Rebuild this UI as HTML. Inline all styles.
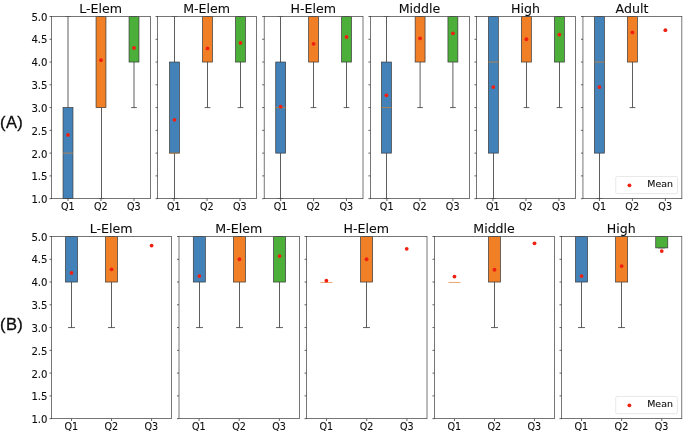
<!DOCTYPE html>
<html><head><meta charset="utf-8"><title>Boxplots</title>
<style>
html,body{margin:0;padding:0;background:#fff;}
body{width:685px;height:433px;overflow:hidden;}
svg{display:block;font-family:"DejaVu Sans","Liberation Sans",sans-serif;fill:#0c0c0c;}
svg text{stroke:#0c0c0c;stroke-width:0.1px;}
svg line,svg rect{shape-rendering:auto;}
</style></head><body>
<svg width="685" height="433" viewBox="0 0 685 433">
<rect x="0" y="0" width="685" height="433" fill="#ffffff" stroke="none"/>
<clipPath id="ca0"><rect x="51.5" y="16.5" width="99" height="182.15"/></clipPath>
<g clip-path="url(#ca0)">
<line x1="68" x2="68" y1="107.58" y2="16.5" stroke="#333333" stroke-width="0.8"/>
<line x1="65.13" x2="70.87" y1="198.65" y2="198.65" stroke="#383838" stroke-width="0.8"/>
<line x1="65.13" x2="70.87" y1="16.5" y2="16.5" stroke="#383838" stroke-width="0.8"/>
<rect x="63.05" y="107.58" width="9.9" height="91.08" fill="#4382b9" stroke="#383838" stroke-width="0.7"/>
<line x1="63.05" x2="72.95" y1="153.11" y2="153.11" stroke="#c8843a" stroke-width="0.8"/>
<line x1="101.5" x2="101.5" y1="107.58" y2="198.65" stroke="#333333" stroke-width="0.8"/>
<line x1="98.63" x2="104.37" y1="198.65" y2="198.65" stroke="#383838" stroke-width="0.8"/>
<line x1="98.63" x2="104.37" y1="16.5" y2="16.5" stroke="#383838" stroke-width="0.8"/>
<rect x="96.05" y="16.5" width="9.9" height="91.08" fill="#f07f26" stroke="#383838" stroke-width="0.7"/>
<line x1="134" x2="134" y1="62.04" y2="107.58" stroke="#333333" stroke-width="0.8"/>
<line x1="131.13" x2="136.87" y1="107.58" y2="107.58" stroke="#383838" stroke-width="0.8"/>
<line x1="131.13" x2="136.87" y1="16.5" y2="16.5" stroke="#383838" stroke-width="0.8"/>
<rect x="129.05" y="16.5" width="9.9" height="45.54" fill="#4baf3a" stroke="#383838" stroke-width="0.7"/>
</g>
<circle cx="68" cy="134.9" r="1.9" fill="#f01f10"/>
<circle cx="101" cy="60.22" r="1.9" fill="#f01f10"/>
<circle cx="134" cy="47.92" r="1.9" fill="#f01f10"/>
<rect x="51.5" y="16.5" width="99" height="182.15" fill="none" stroke="#3c3c3c" stroke-width="0.7"/>
<line x1="49.5" x2="51.5" y1="198.65" y2="198.65" stroke="#3c3c3c" stroke-width="0.8"/>
<text x="47.5" y="203.1" font-size="10.15" text-anchor="end">1.0</text>
<line x1="49.5" x2="51.5" y1="175.88" y2="175.88" stroke="#3c3c3c" stroke-width="0.8"/>
<text x="47.5" y="180.33" font-size="10.15" text-anchor="end">1.5</text>
<line x1="49.5" x2="51.5" y1="153.11" y2="153.11" stroke="#3c3c3c" stroke-width="0.8"/>
<text x="47.5" y="157.56" font-size="10.15" text-anchor="end">2.0</text>
<line x1="49.5" x2="51.5" y1="130.34" y2="130.34" stroke="#3c3c3c" stroke-width="0.8"/>
<text x="47.5" y="134.79" font-size="10.15" text-anchor="end">2.5</text>
<line x1="49.5" x2="51.5" y1="107.58" y2="107.58" stroke="#3c3c3c" stroke-width="0.8"/>
<text x="47.5" y="112.03" font-size="10.15" text-anchor="end">3.0</text>
<line x1="49.5" x2="51.5" y1="84.81" y2="84.81" stroke="#3c3c3c" stroke-width="0.8"/>
<text x="47.5" y="89.26" font-size="10.15" text-anchor="end">3.5</text>
<line x1="49.5" x2="51.5" y1="62.04" y2="62.04" stroke="#3c3c3c" stroke-width="0.8"/>
<text x="47.5" y="66.34" font-size="10.15" text-anchor="end">4.0</text>
<line x1="49.5" x2="51.5" y1="39.27" y2="39.27" stroke="#3c3c3c" stroke-width="0.8"/>
<text x="47.5" y="43.02" font-size="10.15" text-anchor="end">4.5</text>
<line x1="49.5" x2="51.5" y1="16.5" y2="16.5" stroke="#3c3c3c" stroke-width="0.8"/>
<text x="47.5" y="20.55" font-size="10.15" text-anchor="end">5.0</text>
<line x1="68" x2="68" y1="198.65" y2="201.05" stroke="#3c3c3c" stroke-width="0.8"/>
<text x="67.8" y="210.1" font-size="9.6" text-anchor="middle">Q1</text>
<line x1="101" x2="101" y1="198.65" y2="201.05" stroke="#3c3c3c" stroke-width="0.8"/>
<text x="100.8" y="210.1" font-size="9.6" text-anchor="middle">Q2</text>
<line x1="134" x2="134" y1="198.65" y2="201.05" stroke="#3c3c3c" stroke-width="0.8"/>
<text x="133.8" y="210.1" font-size="9.6" text-anchor="middle">Q3</text>
<text x="100.6" y="13.2" font-size="12.6" text-anchor="middle">L-Elem</text>
<clipPath id="ca1"><rect x="157.55" y="16.5" width="99" height="182.15"/></clipPath>
<g clip-path="url(#ca1)">
<line x1="174.5" x2="174.5" y1="153.11" y2="198.65" stroke="#333333" stroke-width="0.8"/>
<line x1="174.5" x2="174.5" y1="62.04" y2="16.5" stroke="#333333" stroke-width="0.8"/>
<line x1="171.63" x2="177.37" y1="198.65" y2="198.65" stroke="#383838" stroke-width="0.8"/>
<line x1="171.63" x2="177.37" y1="16.5" y2="16.5" stroke="#383838" stroke-width="0.8"/>
<rect x="169.55" y="62.04" width="9.9" height="91.08" fill="#4382b9" stroke="#383838" stroke-width="0.7"/>
<line x1="169.55" x2="179.45" y1="153.11" y2="153.11" stroke="#c8843a" stroke-width="0.8"/>
<line x1="207.5" x2="207.5" y1="62.04" y2="107.58" stroke="#333333" stroke-width="0.8"/>
<line x1="204.63" x2="210.37" y1="107.58" y2="107.58" stroke="#383838" stroke-width="0.8"/>
<line x1="204.63" x2="210.37" y1="16.5" y2="16.5" stroke="#383838" stroke-width="0.8"/>
<rect x="202.55" y="16.5" width="9.9" height="45.54" fill="#f07f26" stroke="#383838" stroke-width="0.7"/>
<line x1="240.5" x2="240.5" y1="62.04" y2="107.58" stroke="#333333" stroke-width="0.8"/>
<line x1="237.63" x2="243.37" y1="107.58" y2="107.58" stroke="#383838" stroke-width="0.8"/>
<line x1="237.63" x2="243.37" y1="16.5" y2="16.5" stroke="#383838" stroke-width="0.8"/>
<rect x="235.55" y="16.5" width="9.9" height="45.54" fill="#4baf3a" stroke="#383838" stroke-width="0.7"/>
</g>
<circle cx="174.5" cy="119.87" r="1.9" fill="#f01f10"/>
<circle cx="207.5" cy="48.38" r="1.9" fill="#f01f10"/>
<circle cx="240.5" cy="42.91" r="1.9" fill="#f01f10"/>
<rect x="157.55" y="16.5" width="99" height="182.15" fill="none" stroke="#3c3c3c" stroke-width="0.7"/>
<line x1="155.55" x2="157.55" y1="198.65" y2="198.65" stroke="#3c3c3c" stroke-width="0.8"/>
<line x1="155.55" x2="157.55" y1="175.88" y2="175.88" stroke="#3c3c3c" stroke-width="0.8"/>
<line x1="155.55" x2="157.55" y1="153.11" y2="153.11" stroke="#3c3c3c" stroke-width="0.8"/>
<line x1="155.55" x2="157.55" y1="130.34" y2="130.34" stroke="#3c3c3c" stroke-width="0.8"/>
<line x1="155.55" x2="157.55" y1="107.58" y2="107.58" stroke="#3c3c3c" stroke-width="0.8"/>
<line x1="155.55" x2="157.55" y1="84.81" y2="84.81" stroke="#3c3c3c" stroke-width="0.8"/>
<line x1="155.55" x2="157.55" y1="62.04" y2="62.04" stroke="#3c3c3c" stroke-width="0.8"/>
<line x1="155.55" x2="157.55" y1="39.27" y2="39.27" stroke="#3c3c3c" stroke-width="0.8"/>
<line x1="155.55" x2="157.55" y1="16.5" y2="16.5" stroke="#3c3c3c" stroke-width="0.8"/>
<line x1="174.05" x2="174.05" y1="198.65" y2="201.05" stroke="#3c3c3c" stroke-width="0.8"/>
<text x="173.85" y="210.1" font-size="9.6" text-anchor="middle">Q1</text>
<line x1="207.05" x2="207.05" y1="198.65" y2="201.05" stroke="#3c3c3c" stroke-width="0.8"/>
<text x="206.85" y="210.1" font-size="9.6" text-anchor="middle">Q2</text>
<line x1="240.05" x2="240.05" y1="198.65" y2="201.05" stroke="#3c3c3c" stroke-width="0.8"/>
<text x="239.85" y="210.1" font-size="9.6" text-anchor="middle">Q3</text>
<text x="206.65" y="13.2" font-size="12.6" text-anchor="middle">M-Elem</text>
<clipPath id="ca2"><rect x="264.2" y="16.5" width="98.8" height="182.15"/></clipPath>
<g clip-path="url(#ca2)">
<line x1="280.5" x2="280.5" y1="153.11" y2="198.65" stroke="#333333" stroke-width="0.8"/>
<line x1="280.5" x2="280.5" y1="62.04" y2="16.5" stroke="#333333" stroke-width="0.8"/>
<line x1="277.63" x2="283.37" y1="198.65" y2="198.65" stroke="#383838" stroke-width="0.8"/>
<line x1="277.63" x2="283.37" y1="16.5" y2="16.5" stroke="#383838" stroke-width="0.8"/>
<rect x="275.73" y="62.04" width="9.88" height="91.08" fill="#4382b9" stroke="#383838" stroke-width="0.7"/>
<line x1="275.73" x2="285.61" y1="107.58" y2="107.58" stroke="#c8843a" stroke-width="0.8"/>
<line x1="313.5" x2="313.5" y1="62.04" y2="107.58" stroke="#333333" stroke-width="0.8"/>
<line x1="310.63" x2="316.37" y1="107.58" y2="107.58" stroke="#383838" stroke-width="0.8"/>
<line x1="310.63" x2="316.37" y1="16.5" y2="16.5" stroke="#383838" stroke-width="0.8"/>
<rect x="308.66" y="16.5" width="9.88" height="45.54" fill="#f07f26" stroke="#383838" stroke-width="0.7"/>
<line x1="346.5" x2="346.5" y1="62.04" y2="107.58" stroke="#333333" stroke-width="0.8"/>
<line x1="343.63" x2="349.37" y1="107.58" y2="107.58" stroke="#383838" stroke-width="0.8"/>
<line x1="343.63" x2="349.37" y1="16.5" y2="16.5" stroke="#383838" stroke-width="0.8"/>
<rect x="341.59" y="16.5" width="9.88" height="45.54" fill="#4baf3a" stroke="#383838" stroke-width="0.7"/>
</g>
<circle cx="280.67" cy="106.66" r="1.9" fill="#f01f10"/>
<circle cx="313.6" cy="43.82" r="1.9" fill="#f01f10"/>
<circle cx="346.53" cy="36.99" r="1.9" fill="#f01f10"/>
<rect x="264.2" y="16.5" width="98.8" height="182.15" fill="none" stroke="#3c3c3c" stroke-width="0.7"/>
<line x1="262.2" x2="264.2" y1="198.65" y2="198.65" stroke="#3c3c3c" stroke-width="0.8"/>
<line x1="262.2" x2="264.2" y1="175.88" y2="175.88" stroke="#3c3c3c" stroke-width="0.8"/>
<line x1="262.2" x2="264.2" y1="153.11" y2="153.11" stroke="#3c3c3c" stroke-width="0.8"/>
<line x1="262.2" x2="264.2" y1="130.34" y2="130.34" stroke="#3c3c3c" stroke-width="0.8"/>
<line x1="262.2" x2="264.2" y1="107.58" y2="107.58" stroke="#3c3c3c" stroke-width="0.8"/>
<line x1="262.2" x2="264.2" y1="84.81" y2="84.81" stroke="#3c3c3c" stroke-width="0.8"/>
<line x1="262.2" x2="264.2" y1="62.04" y2="62.04" stroke="#3c3c3c" stroke-width="0.8"/>
<line x1="262.2" x2="264.2" y1="39.27" y2="39.27" stroke="#3c3c3c" stroke-width="0.8"/>
<line x1="262.2" x2="264.2" y1="16.5" y2="16.5" stroke="#3c3c3c" stroke-width="0.8"/>
<line x1="280.67" x2="280.67" y1="198.65" y2="201.05" stroke="#3c3c3c" stroke-width="0.8"/>
<text x="280.47" y="210.1" font-size="9.6" text-anchor="middle">Q1</text>
<line x1="313.6" x2="313.6" y1="198.65" y2="201.05" stroke="#3c3c3c" stroke-width="0.8"/>
<text x="313.4" y="210.1" font-size="9.6" text-anchor="middle">Q2</text>
<line x1="346.53" x2="346.53" y1="198.65" y2="201.05" stroke="#3c3c3c" stroke-width="0.8"/>
<text x="346.33" y="210.1" font-size="9.6" text-anchor="middle">Q3</text>
<text x="313.2" y="13.2" font-size="12.6" text-anchor="middle">H-Elem</text>
<clipPath id="ca3"><rect x="370.4" y="16.5" width="99" height="182.15"/></clipPath>
<g clip-path="url(#ca3)">
<line x1="386.5" x2="386.5" y1="153.11" y2="198.65" stroke="#333333" stroke-width="0.8"/>
<line x1="386.5" x2="386.5" y1="62.04" y2="16.5" stroke="#333333" stroke-width="0.8"/>
<line x1="383.63" x2="389.37" y1="198.65" y2="198.65" stroke="#383838" stroke-width="0.8"/>
<line x1="383.63" x2="389.37" y1="16.5" y2="16.5" stroke="#383838" stroke-width="0.8"/>
<rect x="381.5" y="62.04" width="9.9" height="91.08" fill="#4382b9" stroke="#383838" stroke-width="0.7"/>
<line x1="381.5" x2="391.4" y1="107.58" y2="107.58" stroke="#c8843a" stroke-width="0.8"/>
<line x1="420.1" x2="420.1" y1="62.04" y2="107.58" stroke="#333333" stroke-width="0.8"/>
<line x1="417.23" x2="422.97" y1="107.58" y2="107.58" stroke="#383838" stroke-width="0.8"/>
<line x1="417.23" x2="422.97" y1="16.5" y2="16.5" stroke="#383838" stroke-width="0.8"/>
<rect x="415.15" y="16.5" width="9.9" height="45.54" fill="#f07f26" stroke="#383838" stroke-width="0.7"/>
<line x1="452.9" x2="452.9" y1="62.04" y2="107.58" stroke="#333333" stroke-width="0.8"/>
<line x1="450.03" x2="455.77" y1="107.58" y2="107.58" stroke="#383838" stroke-width="0.8"/>
<line x1="450.03" x2="455.77" y1="16.5" y2="16.5" stroke="#383838" stroke-width="0.8"/>
<rect x="447.95" y="16.5" width="9.9" height="45.54" fill="#4baf3a" stroke="#383838" stroke-width="0.7"/>
</g>
<circle cx="386.45" cy="95.28" r="1.9" fill="#f01f10"/>
<circle cx="420.1" cy="38.36" r="1.9" fill="#f01f10"/>
<circle cx="452.9" cy="33.35" r="1.9" fill="#f01f10"/>
<rect x="370.4" y="16.5" width="99" height="182.15" fill="none" stroke="#3c3c3c" stroke-width="0.7"/>
<line x1="368.4" x2="370.4" y1="198.65" y2="198.65" stroke="#3c3c3c" stroke-width="0.8"/>
<line x1="368.4" x2="370.4" y1="175.88" y2="175.88" stroke="#3c3c3c" stroke-width="0.8"/>
<line x1="368.4" x2="370.4" y1="153.11" y2="153.11" stroke="#3c3c3c" stroke-width="0.8"/>
<line x1="368.4" x2="370.4" y1="130.34" y2="130.34" stroke="#3c3c3c" stroke-width="0.8"/>
<line x1="368.4" x2="370.4" y1="107.58" y2="107.58" stroke="#3c3c3c" stroke-width="0.8"/>
<line x1="368.4" x2="370.4" y1="84.81" y2="84.81" stroke="#3c3c3c" stroke-width="0.8"/>
<line x1="368.4" x2="370.4" y1="62.04" y2="62.04" stroke="#3c3c3c" stroke-width="0.8"/>
<line x1="368.4" x2="370.4" y1="39.27" y2="39.27" stroke="#3c3c3c" stroke-width="0.8"/>
<line x1="368.4" x2="370.4" y1="16.5" y2="16.5" stroke="#3c3c3c" stroke-width="0.8"/>
<line x1="386.9" x2="386.9" y1="198.65" y2="201.05" stroke="#3c3c3c" stroke-width="0.8"/>
<text x="386.7" y="210.1" font-size="9.6" text-anchor="middle">Q1</text>
<line x1="419.9" x2="419.9" y1="198.65" y2="201.05" stroke="#3c3c3c" stroke-width="0.8"/>
<text x="419.7" y="210.1" font-size="9.6" text-anchor="middle">Q2</text>
<line x1="452.9" x2="452.9" y1="198.65" y2="201.05" stroke="#3c3c3c" stroke-width="0.8"/>
<text x="452.7" y="210.1" font-size="9.6" text-anchor="middle">Q3</text>
<text x="419.5" y="13.2" font-size="12.6" text-anchor="middle">Middle</text>
<clipPath id="ca4"><rect x="476.45" y="16.5" width="99.05" height="182.15"/></clipPath>
<g clip-path="url(#ca4)">
<line x1="493.5" x2="493.5" y1="153.11" y2="198.65" stroke="#333333" stroke-width="0.8"/>
<line x1="490.63" x2="496.37" y1="198.65" y2="198.65" stroke="#383838" stroke-width="0.8"/>
<line x1="490.63" x2="496.37" y1="16.5" y2="16.5" stroke="#383838" stroke-width="0.8"/>
<rect x="488.41" y="16.5" width="9.91" height="136.61" fill="#4382b9" stroke="#383838" stroke-width="0.7"/>
<line x1="488.41" x2="498.31" y1="62.04" y2="62.04" stroke="#c8843a" stroke-width="0.8"/>
<line x1="526.5" x2="526.5" y1="62.04" y2="107.58" stroke="#333333" stroke-width="0.8"/>
<line x1="523.63" x2="529.37" y1="107.58" y2="107.58" stroke="#383838" stroke-width="0.8"/>
<line x1="523.63" x2="529.37" y1="16.5" y2="16.5" stroke="#383838" stroke-width="0.8"/>
<rect x="521.42" y="16.5" width="9.91" height="45.54" fill="#f07f26" stroke="#383838" stroke-width="0.7"/>
<line x1="559.5" x2="559.5" y1="62.04" y2="107.58" stroke="#333333" stroke-width="0.8"/>
<line x1="556.63" x2="562.37" y1="107.58" y2="107.58" stroke="#383838" stroke-width="0.8"/>
<line x1="556.63" x2="562.37" y1="16.5" y2="16.5" stroke="#383838" stroke-width="0.8"/>
<rect x="554.44" y="16.5" width="9.91" height="45.54" fill="#4baf3a" stroke="#383838" stroke-width="0.7"/>
</g>
<circle cx="493.36" cy="87.08" r="1.9" fill="#f01f10"/>
<circle cx="526.38" cy="39.27" r="1.9" fill="#f01f10"/>
<circle cx="559.39" cy="34.72" r="1.9" fill="#f01f10"/>
<rect x="476.45" y="16.5" width="99.05" height="182.15" fill="none" stroke="#3c3c3c" stroke-width="0.7"/>
<line x1="474.45" x2="476.45" y1="198.65" y2="198.65" stroke="#3c3c3c" stroke-width="0.8"/>
<line x1="474.45" x2="476.45" y1="175.88" y2="175.88" stroke="#3c3c3c" stroke-width="0.8"/>
<line x1="474.45" x2="476.45" y1="153.11" y2="153.11" stroke="#3c3c3c" stroke-width="0.8"/>
<line x1="474.45" x2="476.45" y1="130.34" y2="130.34" stroke="#3c3c3c" stroke-width="0.8"/>
<line x1="474.45" x2="476.45" y1="107.58" y2="107.58" stroke="#3c3c3c" stroke-width="0.8"/>
<line x1="474.45" x2="476.45" y1="84.81" y2="84.81" stroke="#3c3c3c" stroke-width="0.8"/>
<line x1="474.45" x2="476.45" y1="62.04" y2="62.04" stroke="#3c3c3c" stroke-width="0.8"/>
<line x1="474.45" x2="476.45" y1="39.27" y2="39.27" stroke="#3c3c3c" stroke-width="0.8"/>
<line x1="474.45" x2="476.45" y1="16.5" y2="16.5" stroke="#3c3c3c" stroke-width="0.8"/>
<line x1="492.96" x2="492.96" y1="198.65" y2="201.05" stroke="#3c3c3c" stroke-width="0.8"/>
<text x="492.76" y="210.1" font-size="9.6" text-anchor="middle">Q1</text>
<line x1="525.98" x2="525.98" y1="198.65" y2="201.05" stroke="#3c3c3c" stroke-width="0.8"/>
<text x="525.77" y="210.1" font-size="9.6" text-anchor="middle">Q2</text>
<line x1="558.99" x2="558.99" y1="198.65" y2="201.05" stroke="#3c3c3c" stroke-width="0.8"/>
<text x="558.79" y="210.1" font-size="9.6" text-anchor="middle">Q3</text>
<text x="525.58" y="13.2" font-size="12.6" text-anchor="middle">High</text>
<clipPath id="ca5"><rect x="582.95" y="16.5" width="98.9" height="182.15"/></clipPath>
<g clip-path="url(#ca5)">
<line x1="599.5" x2="599.5" y1="153.11" y2="198.65" stroke="#333333" stroke-width="0.8"/>
<line x1="596.63" x2="602.37" y1="198.65" y2="198.65" stroke="#383838" stroke-width="0.8"/>
<line x1="596.63" x2="602.37" y1="16.5" y2="16.5" stroke="#383838" stroke-width="0.8"/>
<rect x="594.49" y="16.5" width="9.89" height="136.61" fill="#4382b9" stroke="#383838" stroke-width="0.7"/>
<line x1="594.49" x2="604.38" y1="62.04" y2="62.04" stroke="#c8843a" stroke-width="0.8"/>
<line x1="632.5" x2="632.5" y1="62.04" y2="107.58" stroke="#333333" stroke-width="0.8"/>
<line x1="629.63" x2="635.37" y1="107.58" y2="107.58" stroke="#383838" stroke-width="0.8"/>
<line x1="629.63" x2="635.37" y1="16.5" y2="16.5" stroke="#383838" stroke-width="0.8"/>
<rect x="627.46" y="16.5" width="9.89" height="45.54" fill="#f07f26" stroke="#383838" stroke-width="0.7"/>
</g>
<circle cx="599.43" cy="87.08" r="1.9" fill="#f01f10"/>
<circle cx="632.4" cy="32.44" r="1.9" fill="#f01f10"/>
<circle cx="665.37" cy="30.16" r="1.9" fill="#f01f10"/>
<rect x="582.95" y="16.5" width="98.9" height="182.15" fill="none" stroke="#3c3c3c" stroke-width="0.7"/>
<line x1="580.95" x2="582.95" y1="198.65" y2="198.65" stroke="#3c3c3c" stroke-width="0.8"/>
<line x1="580.95" x2="582.95" y1="175.88" y2="175.88" stroke="#3c3c3c" stroke-width="0.8"/>
<line x1="580.95" x2="582.95" y1="153.11" y2="153.11" stroke="#3c3c3c" stroke-width="0.8"/>
<line x1="580.95" x2="582.95" y1="130.34" y2="130.34" stroke="#3c3c3c" stroke-width="0.8"/>
<line x1="580.95" x2="582.95" y1="107.58" y2="107.58" stroke="#3c3c3c" stroke-width="0.8"/>
<line x1="580.95" x2="582.95" y1="84.81" y2="84.81" stroke="#3c3c3c" stroke-width="0.8"/>
<line x1="580.95" x2="582.95" y1="62.04" y2="62.04" stroke="#3c3c3c" stroke-width="0.8"/>
<line x1="580.95" x2="582.95" y1="39.27" y2="39.27" stroke="#3c3c3c" stroke-width="0.8"/>
<line x1="580.95" x2="582.95" y1="16.5" y2="16.5" stroke="#3c3c3c" stroke-width="0.8"/>
<line x1="599.43" x2="599.43" y1="198.65" y2="201.05" stroke="#3c3c3c" stroke-width="0.8"/>
<text x="599.23" y="210.1" font-size="9.6" text-anchor="middle">Q1</text>
<line x1="632.4" x2="632.4" y1="198.65" y2="201.05" stroke="#3c3c3c" stroke-width="0.8"/>
<text x="632.2" y="210.1" font-size="9.6" text-anchor="middle">Q2</text>
<line x1="665.37" x2="665.37" y1="198.65" y2="201.05" stroke="#3c3c3c" stroke-width="0.8"/>
<text x="665.17" y="210.1" font-size="9.6" text-anchor="middle">Q3</text>
<text x="632" y="13.2" font-size="12.6" text-anchor="middle">Adult</text>
<rect x="615.75" y="176.45" width="61.7" height="17.2" rx="1.6" fill="#fff" fill-opacity="0.8" stroke="#e2e2e2" stroke-width="0.8"/>
<circle cx="629.45" cy="185.35" r="1.9" fill="#f01f10"/>
<text x="647.25" y="187.35" font-size="9.45">Mean</text>
<clipPath id="cb0"><rect x="51.5" y="236.5" width="120.1" height="182.15"/></clipPath>
<g clip-path="url(#cb0)">
<line x1="71.5" x2="71.5" y1="282.04" y2="327.57" stroke="#333333" stroke-width="0.8"/>
<line x1="68.02" x2="74.98" y1="327.57" y2="327.57" stroke="#383838" stroke-width="0.8"/>
<line x1="68.02" x2="74.98" y1="236.5" y2="236.5" stroke="#383838" stroke-width="0.8"/>
<rect x="65.51" y="236.5" width="12.01" height="45.54" fill="#4382b9" stroke="#383838" stroke-width="0.7"/>
<line x1="111.5" x2="111.5" y1="282.04" y2="327.57" stroke="#333333" stroke-width="0.8"/>
<line x1="108.02" x2="114.98" y1="327.57" y2="327.57" stroke="#383838" stroke-width="0.8"/>
<line x1="108.02" x2="114.98" y1="236.5" y2="236.5" stroke="#383838" stroke-width="0.8"/>
<rect x="105.55" y="236.5" width="12.01" height="45.54" fill="#f07f26" stroke="#383838" stroke-width="0.7"/>
</g>
<circle cx="71.52" cy="272.93" r="1.9" fill="#f01f10"/>
<circle cx="111.55" cy="269.29" r="1.9" fill="#f01f10"/>
<circle cx="151.58" cy="245.61" r="1.9" fill="#f01f10"/>
<rect x="51.5" y="236.5" width="120.1" height="182.15" fill="none" stroke="#3c3c3c" stroke-width="0.7"/>
<line x1="49.5" x2="51.5" y1="418.65" y2="418.65" stroke="#3c3c3c" stroke-width="0.8"/>
<text x="47.5" y="423.1" font-size="10.15" text-anchor="end">1.0</text>
<line x1="49.5" x2="51.5" y1="395.88" y2="395.88" stroke="#3c3c3c" stroke-width="0.8"/>
<text x="47.5" y="400.33" font-size="10.15" text-anchor="end">1.5</text>
<line x1="49.5" x2="51.5" y1="373.11" y2="373.11" stroke="#3c3c3c" stroke-width="0.8"/>
<text x="47.5" y="377.56" font-size="10.15" text-anchor="end">2.0</text>
<line x1="49.5" x2="51.5" y1="350.34" y2="350.34" stroke="#3c3c3c" stroke-width="0.8"/>
<text x="47.5" y="354.79" font-size="10.15" text-anchor="end">2.5</text>
<line x1="49.5" x2="51.5" y1="327.57" y2="327.57" stroke="#3c3c3c" stroke-width="0.8"/>
<text x="47.5" y="332.02" font-size="10.15" text-anchor="end">3.0</text>
<line x1="49.5" x2="51.5" y1="304.81" y2="304.81" stroke="#3c3c3c" stroke-width="0.8"/>
<text x="47.5" y="309.26" font-size="10.15" text-anchor="end">3.5</text>
<line x1="49.5" x2="51.5" y1="282.04" y2="282.04" stroke="#3c3c3c" stroke-width="0.8"/>
<text x="47.5" y="286.34" font-size="10.15" text-anchor="end">4.0</text>
<line x1="49.5" x2="51.5" y1="259.27" y2="259.27" stroke="#3c3c3c" stroke-width="0.8"/>
<text x="47.5" y="263.02" font-size="10.15" text-anchor="end">4.5</text>
<line x1="49.5" x2="51.5" y1="236.5" y2="236.5" stroke="#3c3c3c" stroke-width="0.8"/>
<text x="47.5" y="240.55" font-size="10.15" text-anchor="end">5.0</text>
<line x1="71.52" x2="71.52" y1="418.65" y2="421.05" stroke="#3c3c3c" stroke-width="0.8"/>
<text x="71.32" y="430.1" font-size="9.6" text-anchor="middle">Q1</text>
<line x1="111.55" x2="111.55" y1="418.65" y2="421.05" stroke="#3c3c3c" stroke-width="0.8"/>
<text x="111.35" y="430.1" font-size="9.6" text-anchor="middle">Q2</text>
<line x1="151.58" x2="151.58" y1="418.65" y2="421.05" stroke="#3c3c3c" stroke-width="0.8"/>
<text x="151.38" y="430.1" font-size="9.6" text-anchor="middle">Q3</text>
<text x="111.15" y="233.2" font-size="12.6" text-anchor="middle">L-Elem</text>
<clipPath id="cb1"><rect x="179" y="236.5" width="120.4" height="182.15"/></clipPath>
<g clip-path="url(#cb1)">
<line x1="199.5" x2="199.5" y1="282.04" y2="327.57" stroke="#333333" stroke-width="0.8"/>
<line x1="196.01" x2="202.99" y1="327.57" y2="327.57" stroke="#383838" stroke-width="0.8"/>
<line x1="196.01" x2="202.99" y1="236.5" y2="236.5" stroke="#383838" stroke-width="0.8"/>
<rect x="193.3" y="236.5" width="12.04" height="45.54" fill="#4382b9" stroke="#383838" stroke-width="0.7"/>
<line x1="239.5" x2="239.5" y1="282.04" y2="327.57" stroke="#333333" stroke-width="0.8"/>
<line x1="236.01" x2="242.99" y1="327.57" y2="327.57" stroke="#383838" stroke-width="0.8"/>
<line x1="236.01" x2="242.99" y1="236.5" y2="236.5" stroke="#383838" stroke-width="0.8"/>
<rect x="233.43" y="236.5" width="12.04" height="45.54" fill="#f07f26" stroke="#383838" stroke-width="0.7"/>
<line x1="279.5" x2="279.5" y1="282.04" y2="327.57" stroke="#333333" stroke-width="0.8"/>
<line x1="276.01" x2="282.99" y1="327.57" y2="327.57" stroke="#383838" stroke-width="0.8"/>
<line x1="276.01" x2="282.99" y1="236.5" y2="236.5" stroke="#383838" stroke-width="0.8"/>
<rect x="273.56" y="236.5" width="12.04" height="45.54" fill="#4baf3a" stroke="#383838" stroke-width="0.7"/>
</g>
<circle cx="199.32" cy="276.12" r="1.9" fill="#f01f10"/>
<circle cx="239.45" cy="259.27" r="1.9" fill="#f01f10"/>
<circle cx="279.58" cy="256.08" r="1.9" fill="#f01f10"/>
<rect x="179" y="236.5" width="120.4" height="182.15" fill="none" stroke="#3c3c3c" stroke-width="0.7"/>
<line x1="177" x2="179" y1="418.65" y2="418.65" stroke="#3c3c3c" stroke-width="0.8"/>
<line x1="177" x2="179" y1="395.88" y2="395.88" stroke="#3c3c3c" stroke-width="0.8"/>
<line x1="177" x2="179" y1="373.11" y2="373.11" stroke="#3c3c3c" stroke-width="0.8"/>
<line x1="177" x2="179" y1="350.34" y2="350.34" stroke="#3c3c3c" stroke-width="0.8"/>
<line x1="177" x2="179" y1="327.57" y2="327.57" stroke="#3c3c3c" stroke-width="0.8"/>
<line x1="177" x2="179" y1="304.81" y2="304.81" stroke="#3c3c3c" stroke-width="0.8"/>
<line x1="177" x2="179" y1="282.04" y2="282.04" stroke="#3c3c3c" stroke-width="0.8"/>
<line x1="177" x2="179" y1="259.27" y2="259.27" stroke="#3c3c3c" stroke-width="0.8"/>
<line x1="177" x2="179" y1="236.5" y2="236.5" stroke="#3c3c3c" stroke-width="0.8"/>
<line x1="199.07" x2="199.07" y1="418.65" y2="421.05" stroke="#3c3c3c" stroke-width="0.8"/>
<text x="198.87" y="430.1" font-size="9.6" text-anchor="middle">Q1</text>
<line x1="239.2" x2="239.2" y1="418.65" y2="421.05" stroke="#3c3c3c" stroke-width="0.8"/>
<text x="239" y="430.1" font-size="9.6" text-anchor="middle">Q2</text>
<line x1="279.33" x2="279.33" y1="418.65" y2="421.05" stroke="#3c3c3c" stroke-width="0.8"/>
<text x="279.13" y="430.1" font-size="9.6" text-anchor="middle">Q3</text>
<text x="238.8" y="233.2" font-size="12.6" text-anchor="middle">M-Elem</text>
<clipPath id="cb2"><rect x="306.5" y="236.5" width="120.5" height="182.15"/></clipPath>
<g clip-path="url(#cb2)">
<line x1="320.36" x2="332.41" y1="282.44" y2="282.44" stroke="#dc8840" stroke-width="0.75"/>
<line x1="366.5" x2="366.5" y1="282.04" y2="327.57" stroke="#333333" stroke-width="0.8"/>
<line x1="363.01" x2="369.99" y1="327.57" y2="327.57" stroke="#383838" stroke-width="0.8"/>
<line x1="363.01" x2="369.99" y1="236.5" y2="236.5" stroke="#383838" stroke-width="0.8"/>
<rect x="360.53" y="236.5" width="12.05" height="45.54" fill="#f07f26" stroke="#383838" stroke-width="0.7"/>
</g>
<circle cx="326.38" cy="280.67" r="1.9" fill="#f01f10"/>
<circle cx="366.55" cy="259.27" r="1.9" fill="#f01f10"/>
<circle cx="406.72" cy="248.8" r="1.9" fill="#f01f10"/>
<rect x="306.5" y="236.5" width="120.5" height="182.15" fill="none" stroke="#3c3c3c" stroke-width="0.7"/>
<line x1="304.5" x2="306.5" y1="418.65" y2="418.65" stroke="#3c3c3c" stroke-width="0.8"/>
<line x1="304.5" x2="306.5" y1="395.88" y2="395.88" stroke="#3c3c3c" stroke-width="0.8"/>
<line x1="304.5" x2="306.5" y1="373.11" y2="373.11" stroke="#3c3c3c" stroke-width="0.8"/>
<line x1="304.5" x2="306.5" y1="350.34" y2="350.34" stroke="#3c3c3c" stroke-width="0.8"/>
<line x1="304.5" x2="306.5" y1="327.57" y2="327.57" stroke="#3c3c3c" stroke-width="0.8"/>
<line x1="304.5" x2="306.5" y1="304.81" y2="304.81" stroke="#3c3c3c" stroke-width="0.8"/>
<line x1="304.5" x2="306.5" y1="282.04" y2="282.04" stroke="#3c3c3c" stroke-width="0.8"/>
<line x1="304.5" x2="306.5" y1="259.27" y2="259.27" stroke="#3c3c3c" stroke-width="0.8"/>
<line x1="304.5" x2="306.5" y1="236.5" y2="236.5" stroke="#3c3c3c" stroke-width="0.8"/>
<line x1="326.58" x2="326.58" y1="418.65" y2="421.05" stroke="#3c3c3c" stroke-width="0.8"/>
<text x="326.38" y="430.1" font-size="9.6" text-anchor="middle">Q1</text>
<line x1="366.75" x2="366.75" y1="418.65" y2="421.05" stroke="#3c3c3c" stroke-width="0.8"/>
<text x="366.55" y="430.1" font-size="9.6" text-anchor="middle">Q2</text>
<line x1="406.92" x2="406.92" y1="418.65" y2="421.05" stroke="#3c3c3c" stroke-width="0.8"/>
<text x="406.72" y="430.1" font-size="9.6" text-anchor="middle">Q3</text>
<text x="366.35" y="233.2" font-size="12.6" text-anchor="middle">H-Elem</text>
<clipPath id="cb3"><rect x="434.45" y="236.5" width="120.05" height="182.15"/></clipPath>
<g clip-path="url(#cb3)">
<line x1="448.46" x2="460.46" y1="282.44" y2="282.44" stroke="#dc8840" stroke-width="0.75"/>
<line x1="494.5" x2="494.5" y1="282.04" y2="327.57" stroke="#333333" stroke-width="0.8"/>
<line x1="491.02" x2="497.98" y1="327.57" y2="327.57" stroke="#383838" stroke-width="0.8"/>
<line x1="491.02" x2="497.98" y1="236.5" y2="236.5" stroke="#383838" stroke-width="0.8"/>
<rect x="488.47" y="236.5" width="12.01" height="45.54" fill="#f07f26" stroke="#383838" stroke-width="0.7"/>
</g>
<circle cx="454.46" cy="276.57" r="1.9" fill="#f01f10"/>
<circle cx="494.48" cy="269.74" r="1.9" fill="#f01f10"/>
<circle cx="534.49" cy="243.33" r="1.9" fill="#f01f10"/>
<rect x="434.45" y="236.5" width="120.05" height="182.15" fill="none" stroke="#3c3c3c" stroke-width="0.7"/>
<line x1="432.45" x2="434.45" y1="418.65" y2="418.65" stroke="#3c3c3c" stroke-width="0.8"/>
<line x1="432.45" x2="434.45" y1="395.88" y2="395.88" stroke="#3c3c3c" stroke-width="0.8"/>
<line x1="432.45" x2="434.45" y1="373.11" y2="373.11" stroke="#3c3c3c" stroke-width="0.8"/>
<line x1="432.45" x2="434.45" y1="350.34" y2="350.34" stroke="#3c3c3c" stroke-width="0.8"/>
<line x1="432.45" x2="434.45" y1="327.57" y2="327.57" stroke="#3c3c3c" stroke-width="0.8"/>
<line x1="432.45" x2="434.45" y1="304.81" y2="304.81" stroke="#3c3c3c" stroke-width="0.8"/>
<line x1="432.45" x2="434.45" y1="282.04" y2="282.04" stroke="#3c3c3c" stroke-width="0.8"/>
<line x1="432.45" x2="434.45" y1="259.27" y2="259.27" stroke="#3c3c3c" stroke-width="0.8"/>
<line x1="432.45" x2="434.45" y1="236.5" y2="236.5" stroke="#3c3c3c" stroke-width="0.8"/>
<line x1="454.46" x2="454.46" y1="418.65" y2="421.05" stroke="#3c3c3c" stroke-width="0.8"/>
<text x="454.26" y="430.1" font-size="9.6" text-anchor="middle">Q1</text>
<line x1="494.48" x2="494.48" y1="418.65" y2="421.05" stroke="#3c3c3c" stroke-width="0.8"/>
<text x="494.28" y="430.1" font-size="9.6" text-anchor="middle">Q2</text>
<line x1="534.49" x2="534.49" y1="418.65" y2="421.05" stroke="#3c3c3c" stroke-width="0.8"/>
<text x="534.29" y="430.1" font-size="9.6" text-anchor="middle">Q3</text>
<text x="494.08" y="233.2" font-size="12.6" text-anchor="middle">Middle</text>
<clipPath id="cb4"><rect x="561.5" y="236.5" width="120.3" height="182.15"/></clipPath>
<g clip-path="url(#cb4)">
<line x1="581.5" x2="581.5" y1="282.04" y2="327.57" stroke="#333333" stroke-width="0.8"/>
<line x1="578.01" x2="584.99" y1="327.57" y2="327.57" stroke="#383838" stroke-width="0.8"/>
<line x1="578.01" x2="584.99" y1="236.5" y2="236.5" stroke="#383838" stroke-width="0.8"/>
<rect x="575.53" y="236.5" width="12.03" height="45.54" fill="#4382b9" stroke="#383838" stroke-width="0.7"/>
<line x1="621.5" x2="621.5" y1="282.04" y2="327.57" stroke="#333333" stroke-width="0.8"/>
<line x1="618.01" x2="624.99" y1="327.57" y2="327.57" stroke="#383838" stroke-width="0.8"/>
<line x1="618.01" x2="624.99" y1="236.5" y2="236.5" stroke="#383838" stroke-width="0.8"/>
<rect x="615.63" y="236.5" width="12.03" height="45.54" fill="#f07f26" stroke="#383838" stroke-width="0.7"/>
<line x1="658.01" x2="664.99" y1="247.88" y2="247.88" stroke="#383838" stroke-width="0.8"/>
<line x1="658.01" x2="664.99" y1="236.5" y2="236.5" stroke="#383838" stroke-width="0.8"/>
<rect x="655.74" y="236.5" width="12.03" height="11.38" fill="#4baf3a" stroke="#383838" stroke-width="0.7"/>
</g>
<circle cx="581.55" cy="276.12" r="1.9" fill="#f01f10"/>
<circle cx="621.65" cy="266.1" r="1.9" fill="#f01f10"/>
<circle cx="661.75" cy="251.07" r="1.9" fill="#f01f10"/>
<rect x="561.5" y="236.5" width="120.3" height="182.15" fill="none" stroke="#3c3c3c" stroke-width="0.7"/>
<line x1="559.5" x2="561.5" y1="418.65" y2="418.65" stroke="#3c3c3c" stroke-width="0.8"/>
<line x1="559.5" x2="561.5" y1="395.88" y2="395.88" stroke="#3c3c3c" stroke-width="0.8"/>
<line x1="559.5" x2="561.5" y1="373.11" y2="373.11" stroke="#3c3c3c" stroke-width="0.8"/>
<line x1="559.5" x2="561.5" y1="350.34" y2="350.34" stroke="#3c3c3c" stroke-width="0.8"/>
<line x1="559.5" x2="561.5" y1="327.57" y2="327.57" stroke="#3c3c3c" stroke-width="0.8"/>
<line x1="559.5" x2="561.5" y1="304.81" y2="304.81" stroke="#3c3c3c" stroke-width="0.8"/>
<line x1="559.5" x2="561.5" y1="282.04" y2="282.04" stroke="#3c3c3c" stroke-width="0.8"/>
<line x1="559.5" x2="561.5" y1="259.27" y2="259.27" stroke="#3c3c3c" stroke-width="0.8"/>
<line x1="559.5" x2="561.5" y1="236.5" y2="236.5" stroke="#3c3c3c" stroke-width="0.8"/>
<line x1="581.55" x2="581.55" y1="418.65" y2="421.05" stroke="#3c3c3c" stroke-width="0.8"/>
<text x="581.35" y="430.1" font-size="9.6" text-anchor="middle">Q1</text>
<line x1="621.65" x2="621.65" y1="418.65" y2="421.05" stroke="#3c3c3c" stroke-width="0.8"/>
<text x="621.45" y="430.1" font-size="9.6" text-anchor="middle">Q2</text>
<line x1="661.75" x2="661.75" y1="418.65" y2="421.05" stroke="#3c3c3c" stroke-width="0.8"/>
<text x="661.55" y="430.1" font-size="9.6" text-anchor="middle">Q3</text>
<text x="621.25" y="233.2" font-size="12.6" text-anchor="middle">High</text>
<rect x="615.7" y="396.45" width="61.7" height="17.2" rx="1.6" fill="#fff" fill-opacity="0.8" stroke="#e2e2e2" stroke-width="0.8"/>
<circle cx="629.4" cy="405.35" r="1.9" fill="#f01f10"/>
<text x="647.2" y="407.35" font-size="9.45">Mean</text>
<text x="0" y="128" font-size="16.5" letter-spacing="0.4" stroke="#0c0c0c" style="stroke-width:0.3px" font-family="Liberation Sans, sans-serif">(A)</text>
<text x="0" y="329.7" font-size="16.5" letter-spacing="0.4" stroke="#0c0c0c" style="stroke-width:0.3px" font-family="Liberation Sans, sans-serif">(B)</text>
</svg>
</body></html>
